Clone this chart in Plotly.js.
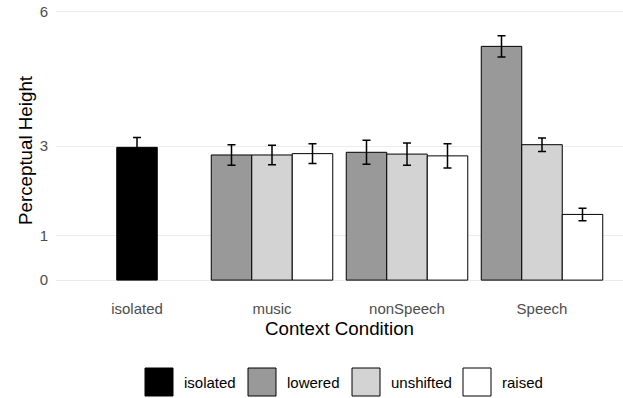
<!DOCTYPE html>
<html>
<head>
<meta charset="utf-8">
<script src="https://cdn.plot.ly/plotly-3.0.1.min.js"></script>
<style>html,body{margin:0;padding:0;background:#fff;}#chart{width:623px;height:398px;}</style>
</head>
<body>
<div id="chart"></div>
<script>
// Data
const contexts = ["isolated", "music", "nonSpeech", "Speech"];
const shiftLevels = ["isolated", "lowered", "unshifted", "raised"];
const shiftColors = ["#000000", "#999999", "#d3d3d3", "#ffffff"];

const isolatedX = ["isolated"];
const isolatedMean = [2.97];
const isolatedSE = [0.22];

const shiftedX = ["music", "nonSpeech", "Speech"];
const loweredMean = [2.80, 2.86, 5.23];
const loweredSE = [0.23, 0.27, 0.24];
const unshiftedMean = [2.80, 2.82, 3.03];
const unshiftedSE = [0.22, 0.25, 0.15];
const raisedMean = [2.83, 2.78, 1.47];
const raisedSE = [0.22, 0.27, 0.14];

const yTicks = [0, 1, 3, 6];

const W = 623, H = 398;
const M = {l: 56, r: 0, t: 3, b: 100};
const barW = 0.3;
const FONT = "Liberation Sans, Arial, Helvetica, sans-serif";

function barTrace(name, x, y, se, color, offset) {
  return {
    type: "bar", name: name, x: x, y: y,
    width: barW, offset: offset,
    marker: {color: color, line: {color: "#000000", width: 1}},
    error_y: {type: "data", array: se, visible: true, color: "#000000", thickness: 1.5, width: 4},
    showlegend: false, hoverinfo: "x+y"
  };
}

const data = [
  barTrace(shiftLevels[0], isolatedX, isolatedMean, isolatedSE, shiftColors[0], -barW/2),
  barTrace(shiftLevels[1], shiftedX, loweredMean, loweredSE, shiftColors[1], -1.5*barW),
  barTrace(shiftLevels[2], shiftedX, unshiftedMean, unshiftedSE, shiftColors[2], -0.5*barW),
  barTrace(shiftLevels[3], shiftedX, raisedMean, raisedSE, shiftColors[3], 0.5*barW)
];

// Custom legend (large square keys, as in the reference)
const plotW = W - M.l - M.r, plotH = H - M.t - M.b;
const px2x = p => (p - M.l) / plotW;
const py2y = p => (H - M.b - p) / plotH;
const keyLeft = [145, 248, 352, 463];
const keySize = 28, keyTop = 368;
const shapes = [], annotations = [];
shiftLevels.forEach((lvl, i) => {
  shapes.push({
    type: "rect", xref: "paper", yref: "paper",
    x0: px2x(keyLeft[i]), x1: px2x(keyLeft[i] + keySize),
    y0: py2y(keyTop + keySize), y1: py2y(keyTop),
    fillcolor: shiftColors[i], line: {color: "#000000", width: 1}
  });
  annotations.push({
    xref: "paper", yref: "paper", x: px2x(keyLeft[i] + keySize + 9), y: py2y(keyTop + keySize/2),
    xanchor: "left", yanchor: "middle", showarrow: false, text: lvl,
    font: {family: FONT, size: 15, color: "#000000"}
  });
});

const layout = {
  width: W, height: H,
  margin: M,
  paper_bgcolor: "#ffffff", plot_bgcolor: "#ffffff",
  font: {family: FONT, size: 15, color: "#4d4d4d"},
  barmode: "overlay",
  showlegend: false,
  xaxis: {
    type: "category", categoryorder: "array", categoryarray: contexts,
    range: [-0.6, 3.6], showgrid: false, zeroline: false, ticks: "",
    tickfont: {family: FONT, size: 15, color: "#4d4d4d"},
    title: {text: "Context Condition", font: {family: FONT, size: 18.75, color: "#000000"}, standoff: 5}
  },
  yaxis: {
    range: [-0.4, 6.2], tickvals: yTicks, ticktext: yTicks.map(String),
    showgrid: true, gridcolor: "#ebebeb", gridwidth: 1, zeroline: false, ticks: "",
    ticklabelstandoff: 7,
    tickfont: {family: FONT, size: 15, color: "#4d4d4d"},
    title: {text: "Perceptual Height", font: {family: FONT, size: 18.75, color: "#000000"}, standoff: 2}
  },
  shapes: shapes, annotations: annotations
};

Plotly.newPlot("chart", data, layout, {displayModeBar: false, staticPlot: true});
</script>
</body>
</html>
